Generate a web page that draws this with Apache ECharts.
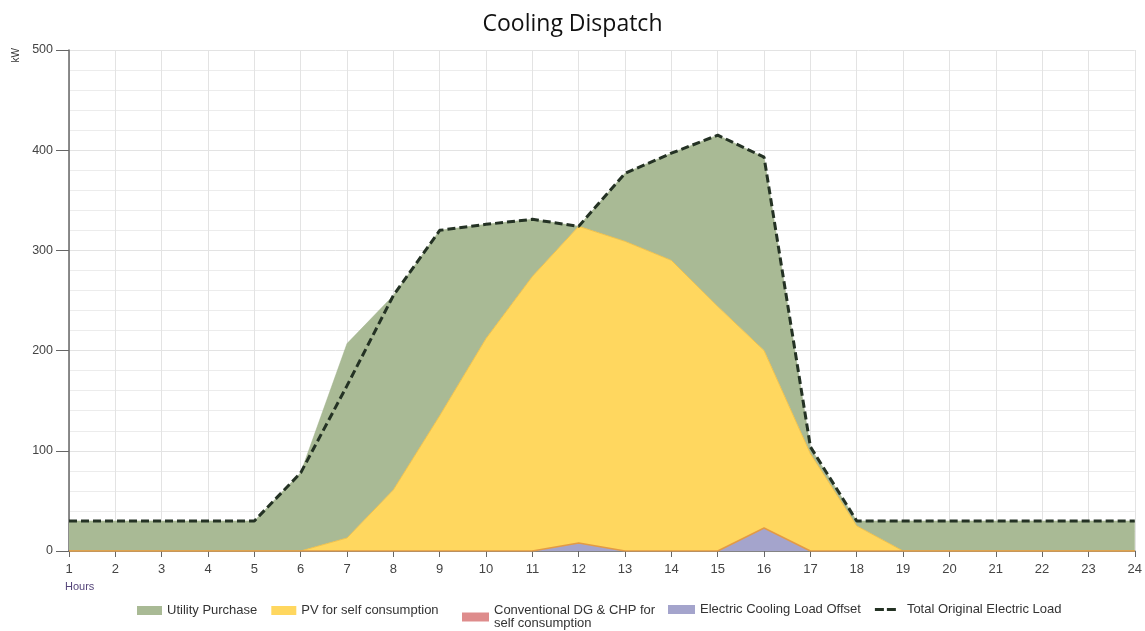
<!DOCTYPE html>
<html>
<head>
<meta charset="utf-8">
<title>Cooling Dispatch</title>
<script src="https://cdn.jsdelivr.net/npm/echarts@6/dist/echarts.min.js"></script>
<style>
  html, body { margin: 0; padding: 0; background: #fff; }
  #chart { width: 1145px; height: 631px; }
</style>
</head>
<body>
<div id="chart"></div>
<script>
// hours of the day (category axis)
var hours = ['1','2','3','4','5','6','7','8','9','10','11','12','13','14','15','16','17','18','19','20','21','22','23','24'];

// stacked areas, kW
var coolingOffset = [0,0,0,0,0,0,0,0,0,0,0,8,0,0,0,23,0,0,0,0,0,0,0,0];
var conventionalDG = [0,0,0,0,0,0,0,0,0,0,0,0,0,0,0,0,0,0,0,0,0,0,0,0];
var pvSelf = [0,0,0,0,0,0,13,61,135,212,274,316,309,290,244,177,97,25,0,0,0,0,0,0];
var utility = [30,30,30,30,30,78,194,194,185,114,57,0,68,107,171,193,6,5,30,30,30,30,30,30];

// dashed line, kW
var totalLoad = [30,30,30,30,30,78,165,255,320,326,331,324,377,397,415,393,104,30,30,30,30,30,30,30];

var chart = echarts.init(document.getElementById('chart'));

var font = 'Liberation Sans, Arial, sans-serif';
var legendText = { fontSize: 13, color: '#333', fontFamily: font, lineHeight: 13 };
// dashed legend icon (hairlines at top/bottom keep the box size)
var dashIcon = 'path://M0,0h27v0.01H0z M0,3h9v3H0z M12,3h9v3H12z M0,9h27v0.01H0z';

var option = {
  animation: false,
  title: {
    text: 'Cooling Dispatch',
    left: 'center',
    top: 8,
    textStyle: { fontFamily: 'Open Sans, sans-serif', fontSize: 23, fontWeight: 'normal', color: '#111' }
  },
  grid: { left: 69, right: 8, top: 50, bottom: 80 },
  legend: [
    {
      left: 137, top: 604, padding: 0, itemWidth: 25, itemHeight: 9, itemGap: 14, textStyle: legendText,
      data: [
        { name: 'Utility Purchase', icon: 'rect' },
        { name: 'PV for self consumption', icon: 'rect' }
      ]
    },
    {
      left: 462, top: 604, padding: 0, itemWidth: 27, itemHeight: 9, textStyle: legendText,
      data: [{ name: 'Conventional DG & CHP for\nself consumption', icon: 'rect' }]
    },
    {
      left: 668, top: 603, padding: 0, itemWidth: 27, itemHeight: 9, itemGap: 14, textStyle: legendText,
      data: [
        { name: 'Electric Cooling Load Offset', icon: 'rect' },
        { name: 'Total Original Electric Load', icon: dashIcon }
      ]
    }
  ],
  graphic: [
    { type: 'text', left: 11, top: 48, rotation: Math.PI / 2,
      style: { text: 'kW', fontSize: 10, fill: '#333', fontFamily: font } },
    { type: 'text', left: 65, top: 581,
      style: { text: 'Hours', fontSize: 11, fill: '#55457a', fontFamily: font } }
  ],
  xAxis: {
    type: 'category',
    boundaryGap: false,
    data: hours,
    axisLine: { lineStyle: { color: '#666', width: 1.5 } },
    axisTick: { show: true, length: 6, lineStyle: { color: '#666' } },
    axisLabel: { margin: 12, color: '#444', fontSize: 13, fontFamily: font },
    splitLine: { show: true, lineStyle: { color: '#e3e3e3' } }
  },
  yAxis: {
    type: 'value',
    min: 0,
    max: 500,
    interval: 100,
    axisLine: { show: true, lineStyle: { color: '#666', width: 1.5 } },
    axisTick: { show: true, length: 13, lineStyle: { color: '#666' } },
    axisLabel: { margin: 16, color: '#444', fontSize: 12.5, fontFamily: font },
    splitLine: { show: true, lineStyle: { color: '#e3e3e3' } },
    minorTick: { show: false, splitNumber: 5 },
    minorSplitLine: { show: true, lineStyle: { color: '#ececec' } }
  },
  series: [
    {
      name: 'Electric Cooling Load Offset',
      type: 'line', stack: 'dispatch', symbol: 'none',
      data: coolingOffset,
      itemStyle: { color: '#a4a4cc' },
      lineStyle: { width: 0 },
      areaStyle: { color: '#a4a4cc', opacity: 1 }
    },
    {
      name: 'Conventional DG & CHP for\nself consumption',
      type: 'line', stack: 'dispatch', symbol: 'none',
      data: conventionalDG,
      itemStyle: { color: '#de8c8c' },
      lineStyle: { width: 1.5, color: '#e39a45' },
      areaStyle: { color: '#de8c8c', opacity: 1 },
      z: 4
    },
    {
      name: 'PV for self consumption',
      type: 'line', stack: 'dispatch', symbol: 'none',
      data: pvSelf,
      itemStyle: { color: '#ffd75f' },
      lineStyle: { width: 1, color: '#f2c24a' },
      areaStyle: { color: '#ffd75f', opacity: 1 }
    },
    {
      name: 'Utility Purchase',
      type: 'line', stack: 'dispatch', symbol: 'none',
      data: utility,
      itemStyle: { color: '#a9ba95' },
      lineStyle: { width: 0.5, color: '#a0b28c' },
      areaStyle: { color: '#a9ba95', opacity: 1 }
    },
    {
      name: 'Total Original Electric Load',
      type: 'line', symbol: 'none',
      data: totalLoad,
      itemStyle: { color: '#243224' },
      lineStyle: { width: 3, type: [8, 4], color: '#243224' },
      z: 5
    }
  ]
};

chart.setOption(option);
window.addEventListener('resize', function () { chart.resize(); });
</script>
</body>
</html>
